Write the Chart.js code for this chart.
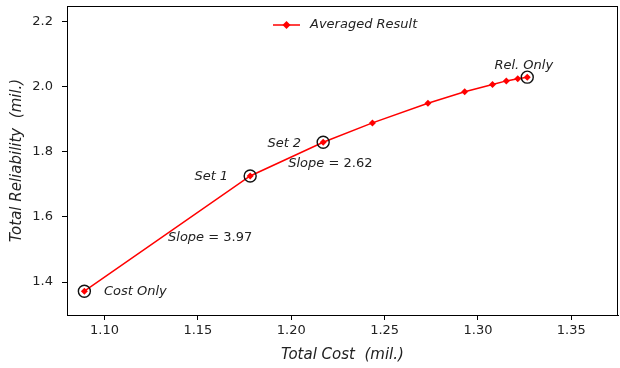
<!DOCTYPE html>
<html lang="en">
<head>
    <meta charset="UTF-8">
    <title>Cost vs Reliability</title>
    <script src="https://cdn.jsdelivr.net/npm/chart.js@4/dist/chart.umd.min.js"></script>
    <style>
        body { margin: 0; background: #fff; }
    </style>
</head>
<body>
    <canvas id="wykres" width="620" height="368"></canvas>
    <script>
        // averaged result curve
        const costs = [1.0892, 1.1780, 1.2171, 1.2435, 1.2732, 1.2929, 1.3078, 1.3152, 1.3213, 1.3264];
        const reliab = [1.372, 1.726, 1.8295, 1.889, 1.9495, 1.9846, 2.007, 2.018, 2.0246, 2.0295];
        // circled key points: Cost Only, Set 1, Set 2, Rel. Only
        const keyCosts = [1.0892, 1.1780, 1.2171, 1.3264];
        const keyRel = [1.372, 1.726, 1.8295, 2.0295];
        const xTicks = [1.10, 1.15, 1.20, 1.25, 1.30, 1.35];
        const yTicks = [1.4, 1.6, 1.8, 2.0, 2.2];
        // text labels (data coords)
        const noteText = ["Cost Only", "Set 1", "Set 2", "Rel. Only"];
        const noteX = [1.0997, 1.1662, 1.2053, 1.3088];
        const noteY = [1.370, 1.724, 1.8255, 2.0655];
        const noteAlign = ["left", "right", "right", "left"];
        const slopeVals = ["3.97", "2.62"];
        const slopeX = [1.134, 1.1984];
        const slopeY = [1.5363, 1.764];

        const FONT = "'DejaVu Sans'";

        const extras = {
            id: 'extras',
            afterDraw(chart) {
                const c = chart.ctx;
                const a = chart.chartArea;
                const xs = chart.scales.x, ys = chart.scales.y;
                c.save();
                // frame
                c.strokeStyle = '#000';
                c.lineWidth = 1;
                c.strokeRect(a.left + 0.5, a.top + 0.5, a.right - a.left - 1, a.bottom - a.top);
                // notes
                c.fillStyle = '#222';
                c.textBaseline = 'middle';
                c.font = 'italic 13px ' + FONT;
                for (let i = 0; i < noteText.length; i++) {
                    c.textAlign = noteAlign[i];
                    c.fillText(noteText[i], xs.getPixelForValue(noteX[i]), ys.getPixelForValue(noteY[i]));
                }
                c.textAlign = 'left';
                for (let i = 0; i < slopeVals.length; i++) {
                    let px = xs.getPixelForValue(slopeX[i]);
                    let py = ys.getPixelForValue(slopeY[i]);
                    c.font = 'italic 13px ' + FONT;
                    c.fillText('Slope', px, py);
                    px += c.measureText('Slope').width;
                    c.font = '13px ' + FONT;
                    c.fillText(' = ' + slopeVals[i], px, py);
                }
                // legend
                const lx = 273, ly = 25;
                c.strokeStyle = 'red';
                c.lineWidth = 1.5;
                c.beginPath();
                c.moveTo(lx, ly);
                c.lineTo(lx + 27, ly);
                c.stroke();
                c.fillStyle = 'red';
                c.beginPath();
                c.moveTo(lx + 13.5, ly - 4);
                c.lineTo(lx + 17.5, ly);
                c.lineTo(lx + 13.5, ly + 4);
                c.lineTo(lx + 9.5, ly);
                c.closePath();
                c.fill();
                c.fillStyle = '#222';
                c.font = 'italic 13px ' + FONT;
                c.fillText('Averaged Result', 310, ly);
                c.restore();
            }
        };

        const ctx = document.getElementById('wykres').getContext('2d');
        const wykres = new Chart(ctx, {
            type: 'scatter',
            data: {
                datasets: [
                    {
                        label: 'Averaged Result',
                        data: costs.map((x, i) => ({ x: x, y: reliab[i] })),
                        showLine: true,
                        borderColor: 'red',
                        backgroundColor: 'red',
                        borderWidth: 1.5,
                        pointStyle: 'rectRot',
                        pointRadius: 3.5,
                        pointBorderWidth: 0,
                        order: 2
                    },
                    {
                        label: 'keys',
                        data: keyCosts.map((x, i) => ({ x: x, y: keyRel[i] })),
                        showLine: false,
                        borderColor: '#111',
                        backgroundColor: 'rgba(0,0,0,0)',
                        pointStyle: 'circle',
                        pointRadius: 6,
                        pointBorderWidth: 1.4,
                        order: 1
                    }
                ]
            },
            options: {
                responsive: false,
                animation: false,
                layout: { autoPadding: false, padding: { top: 6, right: 2, left: 0, bottom: 0 } },
                plugins: {
                    legend: { display: false },
                    tooltip: { enabled: false }
                },
                scales: {
                    x: {
                        type: 'linear',
                        min: 1.0799,
                        max: 1.375,
                        afterBuildTicks: s => { s.ticks = xTicks.map(v => ({ value: v })); },
                        afterFit: s => { s.height = 53; s.paddingLeft = 0; s.paddingRight = 0; },
                        grid: { display: true, drawOnChartArea: false, drawTicks: true, tickLength: 5, color: '#000' },
                        border: { display: true, color: '#000' },
                        ticks: {
                            color: '#222',
                            font: { family: FONT, size: 13 },
                            padding: 3,
                            maxRotation: 0,
                            callback: v => v.toFixed(2)
                        },
                        title: {
                            display: true,
                            text: 'Total Cost  (mil.)',
                            color: '#222',
                            font: { family: FONT, size: 15, style: 'italic' },
                            padding: { top: 2 }
                        }
                    },
                    y: {
                        type: 'linear',
                        min: 1.299,
                        max: 2.248,
                        afterBuildTicks: s => { s.ticks = yTicks.map(v => ({ value: v })); },
                        afterFit: s => { s.width = 67; s.paddingTop = 0; s.paddingBottom = 0; },
                        grid: { display: true, drawOnChartArea: false, drawTicks: true, tickLength: 5, color: '#000' },
                        border: { display: true, color: '#000' },
                        ticks: {
                            color: '#222',
                            font: { family: FONT, size: 13 },
                            padding: 9,
                            callback: v => v.toFixed(1)
                        },
                        title: {
                            display: true,
                            text: 'Total Reliability  (mil.)',
                            color: '#222',
                            font: { family: FONT, size: 15, style: 'italic' },
                            padding: { top: 8, bottom: 4 }
                        }
                    }
                }
            },
            plugins: [extras]
        });
    </script>
</body>
</html>
